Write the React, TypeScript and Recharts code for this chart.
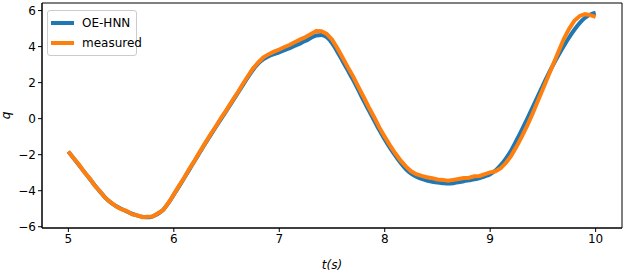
import { LineChart, Line, XAxis, YAxis, ReferenceArea, Label } from "recharts";

const times = [
  5.0, 5.05, 5.1, 5.15, 5.2, 5.25, 5.3, 5.35, 5.4, 5.45, 5.5, 5.55, 5.6, 5.65, 5.7, 5.75, 5.8, 5.85, 5.9, 5.95,
  6.0, 6.05, 6.1, 6.15, 6.2, 6.25, 6.3, 6.35, 6.4, 6.45, 6.5, 6.55, 6.6, 6.65, 6.7, 6.75, 6.8, 6.85, 6.9, 6.95,
  7.0, 7.05, 7.1, 7.15, 7.2, 7.25, 7.3, 7.35, 7.4, 7.45, 7.5, 7.55, 7.6, 7.65, 7.7, 7.75, 7.8, 7.85, 7.9, 7.95,
  8.0, 8.05, 8.1, 8.15, 8.2, 8.25, 8.3, 8.35, 8.4, 8.45, 8.5, 8.55, 8.6, 8.65, 8.7, 8.75, 8.8, 8.85, 8.9, 8.95,
  9.0, 9.05, 9.1, 9.15, 9.2, 9.25, 9.3, 9.35, 9.4, 9.45, 9.5, 9.55, 9.6, 9.65, 9.7, 9.75, 9.8, 9.85, 9.9, 9.95,
  10.0,
];

// OE-HNN prediction
const predicted = [
  -1.83, -2.2, -2.57, -2.95, -3.32, -3.7, -4.05, -4.38, -4.65, -4.85, -5.0, -5.14, -5.27, -5.37, -5.45, -5.48, -5.42, -5.28, -5.05, -4.68,
  -4.22, -3.76, -3.28, -2.8, -2.32, -1.84, -1.36, -0.9, -0.45, 0.0, 0.45, 0.9, 1.36, 1.82, 2.28, 2.7, 3.05, 3.3, 3.47, 3.58,
  3.68, 3.8, 3.92, 4.05, 4.18, 4.32, 4.48, 4.62, 4.65, 4.52, 4.2, 3.72, 3.2, 2.68, 2.15, 1.58, 1.0, 0.45, -0.1, -0.65,
  -1.15, -1.62, -2.05, -2.45, -2.8, -3.05, -3.22, -3.35, -3.44, -3.5, -3.55, -3.58, -3.6, -3.58, -3.53, -3.47, -3.42, -3.37, -3.3, -3.2,
  -3.08, -2.88, -2.58, -2.2, -1.75, -1.2, -0.62, -0.02, 0.6, 1.22, 1.85, 2.45, 3.02, 3.55, 4.05, 4.52, 4.95, 5.32, 5.6, 5.78,
  5.88,
];

// measured trajectory
const measured = [
  -1.82, -2.2, -2.55, -2.96, -3.3, -3.72, -4.03, -4.4, -4.63, -4.86, -5.03, -5.12, -5.3, -5.36, -5.47, -5.44, -5.43, -5.25, -5.07, -4.66,
  -4.2, -3.72, -3.27, -2.76, -2.3, -1.8, -1.33, -0.85, -0.42, 0.06, 0.49, 0.96, 1.4, 1.88, 2.34, 2.78, 3.12, 3.4, 3.58, 3.72,
  3.84, 3.98, 4.1, 4.25, 4.4, 4.53, 4.7, 4.86, 4.85, 4.7, 4.4, 3.92, 3.4, 2.86, 2.35, 1.76, 1.2, 0.62, 0.08, -0.5,
  -1.0, -1.48, -1.92, -2.32, -2.65, -2.92, -3.08, -3.18, -3.25, -3.3, -3.38, -3.4, -3.45, -3.4, -3.35, -3.3, -3.28, -3.2, -3.18, -3.08,
  -2.98, -2.92, -2.75, -2.45, -2.05, -1.55, -1.0, -0.4, 0.25, 0.95, 1.65, 2.35, 3.05, 3.75, 4.45, 5.0, 5.45, 5.7, 5.8, 5.75,
  5.65,
];

const xTicks = [5, 6, 7, 8, 9, 10];
const yTicks = [-6, -4, -2, 0, 2, 4, 6];

const data = times.map((t, i) => ({ t, predicted: predicted[i], measured: measured[i] }));

const X_DOMAIN: [number, number] = [4.75, 10.25];
const Y_DOMAIN: [number, number] = [-6.07, 6.42];

const font = "'DejaVu Sans', sans-serif";
const fmt = (v: number) => String(v).replace("-", "\u2212");

const legendItems = [
  { name: "OE-HNN", color: "#1f77b4" },
  { name: "measured", color: "#ff7f0e" },
];

export default function App() {
  return (
    <div style={{ position: "absolute", left: 0, top: 0, width: 628, height: 275, background: "#fff" }}>
      <LineChart width={628} height={275} data={data} margin={{ top: 3, right: 6, left: 0, bottom: 0 }}>
        <XAxis
          dataKey="t"
          type="number"
          domain={X_DOMAIN}
          ticks={xTicks}
          allowDataOverflow
          height={47}
          tickSize={4}
          stroke="#000"
          tick={{ fill: "#000", fontSize: 12, fontFamily: font }}
          tickFormatter={fmt}
        >
          <Label
            value="t(s)"
            position="insideBottom"
            offset={6}
            style={{ fill: "#000", fontSize: 12, fontFamily: font, fontStyle: "italic" }}
          />
        </XAxis>
        <YAxis
          type="number"
          domain={Y_DOMAIN}
          ticks={yTicks}
          allowDataOverflow
          width={42}
          tickSize={4}
          stroke="#000"
          tick={{ fill: "#000", fontSize: 12, fontFamily: font }}
          tickFormatter={fmt}
        >
          <Label
            value="q"
            angle={-90}
            position="insideLeft"
            offset={6}
            style={{ fill: "#000", fontSize: 12, fontFamily: font, fontStyle: "italic", textAnchor: "middle" }}
          />
        </YAxis>
        <ReferenceArea
          x1={X_DOMAIN[0]}
          x2={X_DOMAIN[1]}
          y1={Y_DOMAIN[0]}
          y2={Y_DOMAIN[1]}
          fill="none"
          stroke="#000"
          strokeWidth={1}
          ifOverflow="visible"
        />
        <Line
          dataKey="predicted"
          stroke="#1f77b4"
          strokeWidth={4}
          dot={false}
          type="monotone"
          isAnimationActive={false}
        />
        <Line
          dataKey="measured"
          stroke="#ff7f0e"
          strokeWidth={4}
          dot={false}
          type="linear"
          isAnimationActive={false}
        />
      </LineChart>
      <div
        style={{
          position: "absolute",
          left: 47,
          top: 10,
          width: 88,
          height: 44,
          border: "1px solid #cccccc",
          borderRadius: 3,
          background: "rgba(255,255,255,0.8)",
          fontFamily: font,
          fontSize: 12,
          color: "#000",
        }}
      >
        {legendItems.map((item, i) => (
          <div
            key={item.name}
            style={{ position: "absolute", left: 3, top: 4 + i * 20, height: 16, display: "flex", alignItems: "center" }}
          >
            <span style={{ display: "inline-block", width: 23, height: 4, background: item.color }} />
            <span style={{ marginLeft: 8 }}>{item.name}</span>
          </div>
        ))}
      </div>
    </div>
  );
}
